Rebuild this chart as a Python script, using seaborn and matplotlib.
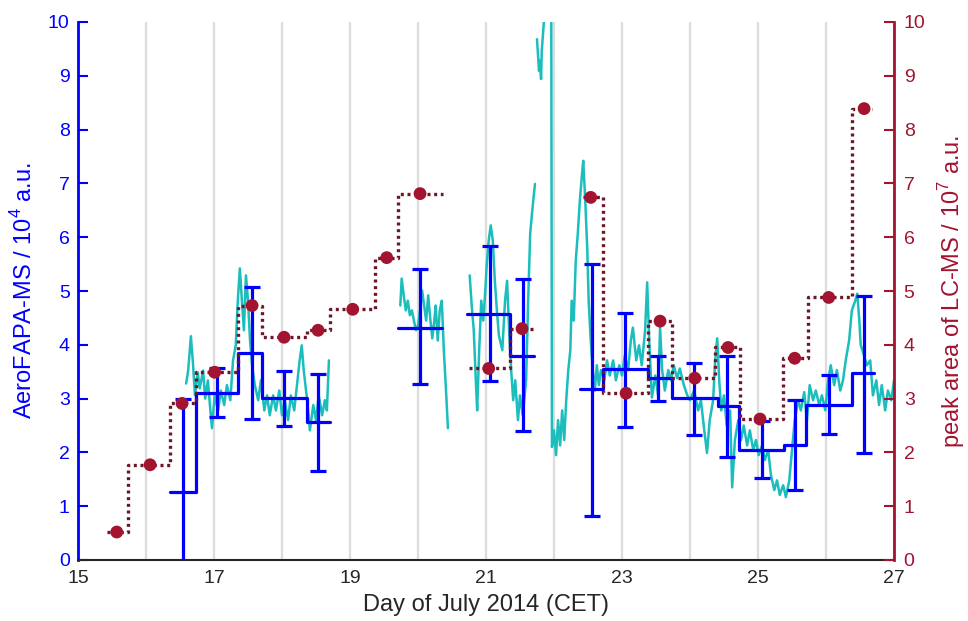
import matplotlib
matplotlib.use("Agg")
import matplotlib.pyplot as plt
import numpy as np
import pandas as pd
import seaborn as sns

# ---------------- data ----------------
# AeroFAPA-MS high-resolution signal (10^4 a.u.), four separate measurement segments
cyan_a_t = [16.59,16.62,16.66,16.69,16.72,16.76,16.79,16.84,16.87,16.91,16.94,16.97,17.01,17.06,17.10,
            17.15,17.19,17.24,17.28,17.32,17.35,17.38,17.41,17.44,17.47,17.50,17.53,17.56,17.60,17.65,
            17.69,17.74,17.78,17.82,17.87,17.91,17.96,18.00,18.04,18.09,18.13,18.18,18.22,18.26,18.29,
            18.32,18.37,18.41,18.46,18.50,18.54,18.59,18.63,18.66,18.69]
cyan_a_v = [3.28,3.52,4.16,3.67,3.06,3.49,3.19,3.52,3.00,3.34,2.88,2.45,3.06,2.78,3.15,
            2.88,3.25,2.97,3.71,3.99,4.82,5.42,4.82,4.27,5.29,4.82,4.08,3.62,3.25,2.97,
            3.34,2.78,3.06,2.69,3.06,2.78,3.15,2.69,2.97,2.60,3.06,2.78,3.25,3.71,3.99,
            3.52,2.97,2.41,2.88,2.60,3.06,2.69,2.97,2.78,3.71]
cyan_b_t = [19.74,19.76,19.79,19.82,19.85,19.88,19.91,19.94,19.97,20.00,20.03,20.06,20.09,20.12,20.15,
            20.18,20.21,20.24,20.26,20.29,20.32,20.35,20.38,20.41,20.44]
cyan_b_v = [4.73,5.23,4.92,4.64,4.82,4.55,4.64,4.45,4.27,4.36,4.64,5.01,4.73,4.45,4.92,
            4.49,4.12,4.45,4.73,4.08,4.64,4.82,3.90,3.20,2.45]
cyan_c_t = [20.76,20.79,20.82,20.85,20.87,20.90,20.93,20.96,20.99,21.01,21.04,21.07,21.10,21.13,21.16,
            21.19,21.24,21.28,21.31,21.34,21.37,21.40,21.43,21.47,21.50,21.54,21.59,21.62,21.65,21.68,21.72]
cyan_c_v = [5.29,4.73,4.27,3.34,2.78,3.90,4.82,4.45,5.01,5.47,5.94,6.22,5.94,5.19,4.64,
            4.17,3.90,4.82,5.19,4.27,3.53,2.97,3.34,2.60,3.06,2.69,3.34,4.82,6.07,6.49,6.99]
cyan_d_t = [21.75,21.78,21.79,21.81,21.82,21.85,21.88,21.93,21.96,21.97,
            22.00,22.03,22.06,22.09,22.12,22.15,22.18,22.21,22.24,22.26,
            22.29,22.32,22.35,22.38,22.41,22.43,22.46,22.49,22.51,22.54,
            22.57,22.60,22.63,22.66,22.69,22.74,22.78,22.82,22.87,22.91,
            22.96,23.00,23.04,23.09,23.13,23.16,23.21,23.25,23.29,23.34,
            23.37,23.40,23.44,23.49,23.53,23.56,23.59,23.63,23.68,23.72,
            23.76,23.81,23.85,23.91,23.96,24.00,24.06,24.12,24.16,24.21,
            24.25,24.29,24.34,24.37,24.40,24.43,24.46,24.50,24.54,24.59,
            24.62,24.66,24.71,24.75,24.79,24.84,24.88,24.93,24.97,25.01,
            25.06,25.10,25.15,25.19,25.24,25.28,25.32,25.37,25.41,25.46,
            25.50,25.54,25.59,25.63,25.68,25.72,25.76,25.81,25.85,25.90,
            25.94,25.99,26.03,26.07,26.12,26.16,26.21,26.25,26.29,26.34,
            26.38,26.43,26.46,26.49,26.51,26.56,26.60,26.65,26.69,26.74,
            26.78,26.82,26.87,26.91,26.96,27.00]
cyan_d_v = [9.68,9.09,9.28,8.94,9.46,9.98,10.39,10.39,10.2,2.10,
            2.41,1.95,2.60,2.13,2.78,2.23,2.97,3.53,3.90,4.82,
            4.45,5.57,6.07,6.68,7.14,7.42,6.68,5.75,4.82,4.08,
            3.53,3.15,3.62,3.25,3.53,3.34,3.71,3.43,3.71,3.34,
            3.62,3.43,3.80,3.53,4.08,4.32,3.71,3.99,3.62,4.27,
            5.16,4.08,3.02,3.43,3.06,4.32,3.53,3.15,3.53,3.34,
            3.62,3.38,3.56,3.25,3.06,2.97,3.15,2.78,2.97,2.41,
            1.99,2.60,2.97,3.71,4.12,3.34,2.78,3.06,2.50,2.78,
            1.35,2.23,2.60,2.23,2.50,2.13,2.41,2.04,2.23,1.95,
            2.13,1.86,2.04,1.58,1.30,1.48,1.21,1.39,1.17,1.48,
            2.04,2.60,2.97,2.78,3.12,2.60,3.25,2.97,3.15,2.88,
            3.06,2.78,3.34,3.62,3.25,3.53,3.15,3.34,3.71,4.08,
            4.64,4.82,4.95,4.45,4.00,3.80,3.62,3.71,3.06,3.34,
            2.88,3.25,2.78,3.15,2.97,3.34]

# AeroFAPA-MS averaged over LC-MS sampling intervals (10^4 a.u.)
avg_edges = [[16.35, 16.74, 17.35, 17.71, 18.37, 18.71],
             [19.71, 20.35],
             [20.72, 21.35, 21.71],
             [22.38, 22.72, 23.38, 23.74, 24.41, 24.72, 25.38, 25.71, 26.38, 26.71]]
avg_time = [16.54, 17.04, 17.56, 18.03, 18.53, 20.03, 21.06, 21.54,
            22.56, 23.04, 23.53, 24.06, 24.54, 25.06, 25.54, 26.04, 26.56]
avg_value = [1.26, 3.10, 3.84, 3.02, 2.56, 4.32, 4.58, 3.80,
             3.17, 3.55, 3.38, 3.01, 2.86, 2.04, 2.13, 2.88, 3.47]
avg_high = [3.00, 3.56, 5.07, 3.51, 3.45, 5.40, 5.84, 5.23,
            5.51, 4.60, 3.79, 3.67, 3.80, 2.58, 2.97, 3.43, 4.90]
avg_low = [-0.48, 2.65, 2.62, 2.50, 1.65, 3.28, 3.32, 2.39,
           0.82, 2.47, 2.95, 2.32, 1.91, 1.52, 1.30, 2.34, 1.99]

# LC-MS peak area (10^7 a.u.)
lc_edges = [[15.43, 15.74, 16.35, 16.74, 17.35, 17.71, 18.37, 18.71, 19.37, 19.71, 20.37],
            [20.75, 21.35, 21.71],
            [22.43, 22.72, 23.38, 23.74, 24.37, 24.74, 25.37, 25.74, 26.38, 26.68]]
lc_time = [15.57, 16.06, 16.53, 17.01, 17.56, 18.03, 18.53, 19.04, 19.54, 20.03,
           21.04, 21.53,
           22.54, 23.06, 23.56, 24.07, 24.56, 25.03, 25.54, 26.04, 26.56]
lc_value = [0.52, 1.77, 2.91, 3.49, 4.73, 4.14, 4.27, 4.66, 5.62, 6.81,
            3.56, 4.30,
            6.74, 3.10, 4.44, 3.38, 3.95, 2.62, 3.75, 4.88, 8.39]

x_ticks = list(range(15, 28))
x_labels = [str(d) if d % 2 == 1 else "" for d in x_ticks]
y_ticks = list(range(0, 11))

# ---------------- styling ----------------
BLUE = "#0000FF"
CYAN = "#1BBDBD"
RED = "#A2142F"
RED_LINE = "#6E1627"
DARK = "#262626"

sns.set_style("white")
plt.rcParams["font.family"] = ["Liberation Sans", "DejaVu Sans"]
plt.rcParams["mathtext.fontset"] = "custom"
plt.rcParams["mathtext.rm"] = "Liberation Sans"

fig = plt.figure(figsize=(9.68, 6.21), dpi=100)
ax = fig.add_axes([78 / 968, 61 / 621, 816 / 968, 538 / 621])

# cyan high-resolution trace
frames = []
for i, (t, v) in enumerate([(cyan_a_t, cyan_a_v), (cyan_b_t, cyan_b_v),
                            (cyan_c_t, cyan_c_v), (cyan_d_t, cyan_d_v)]):
    frames.append(pd.DataFrame({"t": t, "v": v, "seg": i}))
df_cyan = pd.concat(frames, ignore_index=True)
sns.lineplot(data=df_cyan, x="t", y="v", units="seg", estimator=None, sort=False,
             color=CYAN, lw=1.8, ax=ax, legend=False, zorder=2)

# blue steps
rows = []
k = 0
for g, edges in enumerate(avg_edges):
    n = len(edges) - 1
    vals = avg_value[k:k + n]
    ys = vals + [vals[-1]]
    for e, y in zip(edges, ys):
        rows.append({"t": e, "v": y, "grp": g})
    k += n
df_avg = pd.DataFrame(rows)
sns.lineplot(data=df_avg, x="t", y="v", units="grp", estimator=None, sort=False,
             color=BLUE, lw=2.3, drawstyle="steps-post", ax=ax, legend=False, zorder=3)

av = np.array(avg_value)
yerr = [av - np.array(avg_low), np.array(avg_high) - av]
ax.errorbar(avg_time, avg_value, yerr=yerr, fmt="none", ecolor=BLUE,
            elinewidth=2.3, capsize=6, capthick=2.3, zorder=4)

ax.set_xlim(15, 27)
ax.set_ylim(0, 10)
ax.set_xticks(x_ticks)
ax.set_xticklabels(x_labels)
ax.set_yticks(y_ticks)
ax.grid(axis="x", color="#DCDCDC", lw=1.6)
ax.grid(axis="y", visible=False)
ax.set_axisbelow(True)

ax.tick_params(axis="x", direction="in", length=7, width=1.5, colors=DARK,
               labelsize=14, pad=7, top=False)
ax.tick_params(axis="y", direction="in", length=7, width=1.5, colors=BLUE,
               labelsize=14, pad=6, right=False)
ax.set_xlabel("Day of July 2014 (CET)", fontsize=17, color=DARK, labelpad=5)
ax.set_ylabel("AeroFAPA-MS / 10$^{\\mathregular{4}}$ a.u.", fontsize=17, color=BLUE, labelpad=8)

for s in ["top", "right"]:
    ax.spines[s].set_visible(False)
ax.spines["left"].set_color(BLUE)
ax.spines["left"].set_linewidth(2)
ax.spines["bottom"].set_color(DARK)
ax.spines["bottom"].set_linewidth(1.5)

# right axis: LC-MS
ax2 = ax.twinx()
rows = []
k = 0
for g, edges in enumerate(lc_edges):
    n = len(edges) - 1
    vals = lc_value[k:k + n]
    ys = vals + [vals[-1]]
    for e, y in zip(edges, ys):
        rows.append({"t": e, "v": y, "grp": g})
    k += n
df_lc = pd.DataFrame(rows)
sns.lineplot(data=df_lc, x="t", y="v", units="grp", estimator=None, sort=False,
             color=RED_LINE, lw=2.4, linestyle=(0, (0.9, 1.1)), drawstyle="steps-post",
             ax=ax2, legend=False, zorder=2)
sns.scatterplot(x=lc_time, y=lc_value, color=RED, s=85, edgecolor="none",
                ax=ax2, legend=False, zorder=3)

ax2.set_xlim(15, 27)
ax2.set_ylim(0, 10)
ax2.set_yticks(y_ticks)
ax2.grid(False)
ax2.tick_params(axis="y", direction="in", length=7, width=1.5, colors=RED,
                labelsize=14, pad=7, left=False)
ax2.set_ylabel("peak area of LC-MS / 10$^{\\mathregular{7}}$ a.u.", fontsize=17,
               color=RED, labelpad=8)
ax2.yaxis.set_label_position("right")
for s in ["top", "left", "bottom"]:
    ax2.spines[s].set_visible(False)
ax2.spines["right"].set_color(RED)
ax2.spines["right"].set_linewidth(2)
ax2.set_xlabel("")

fig.savefig("out.png", dpi=100)
